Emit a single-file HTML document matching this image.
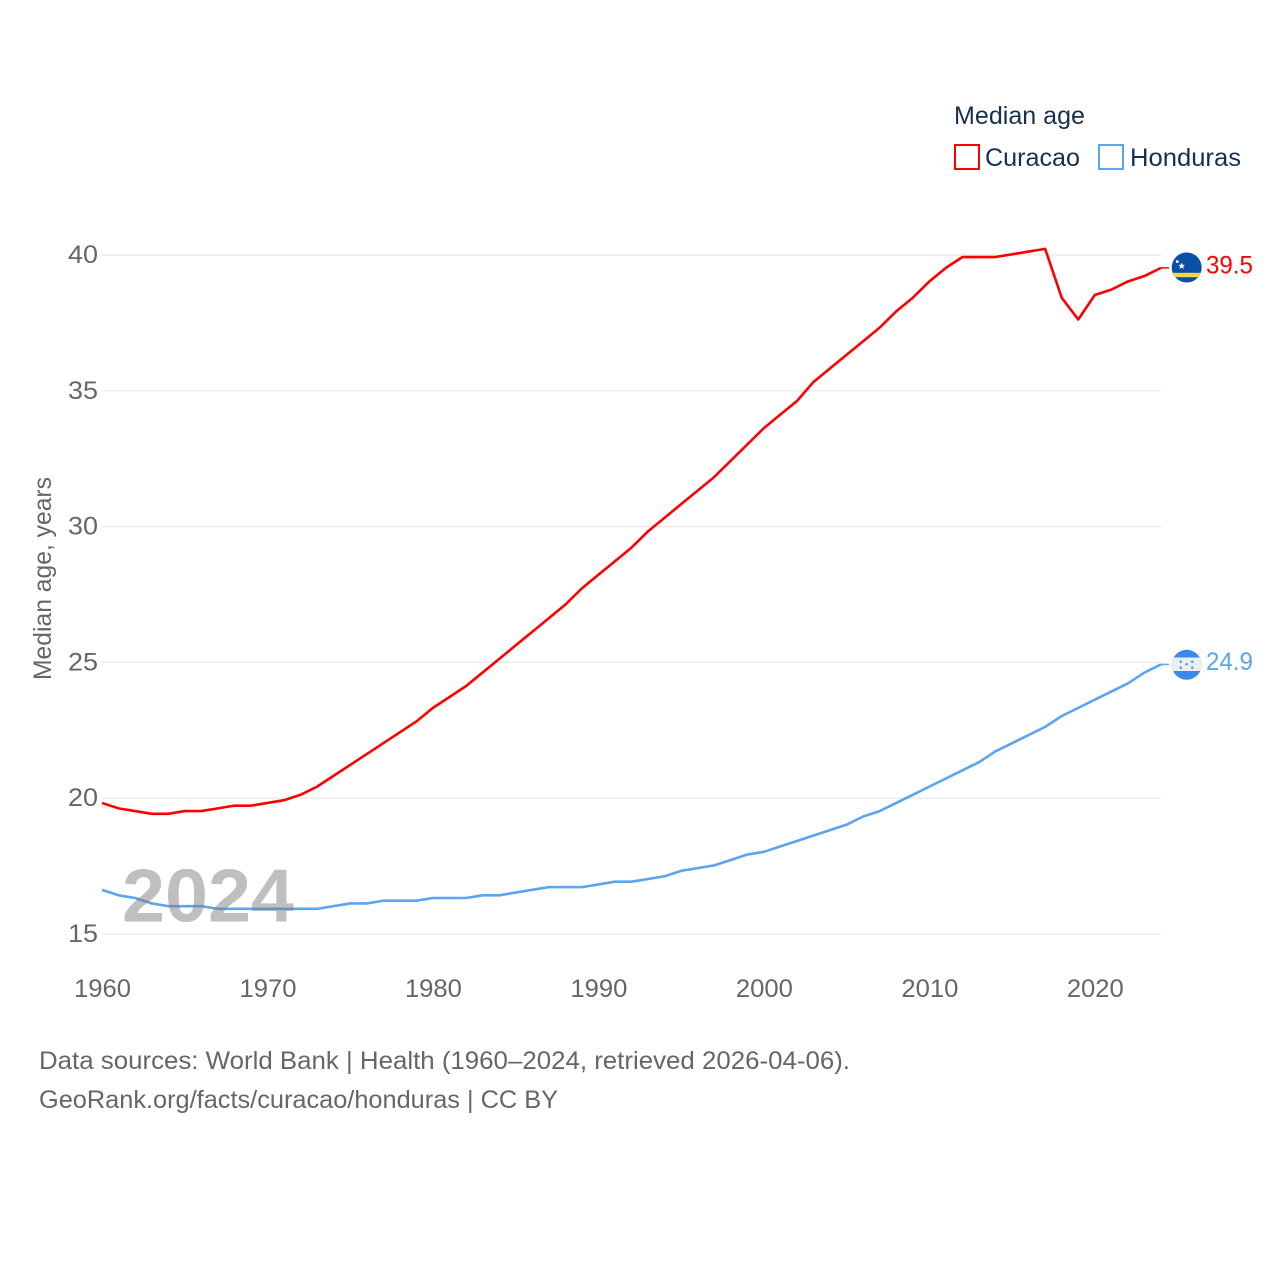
<!DOCTYPE html>
<html lang="en">
<head>
<meta charset="utf-8">
<title>Median age: Curacao and Honduras</title>
<style>
html,body{margin:0;padding:0;background:#fff;}
svg{display:block;font-family:"Liberation Sans",sans-serif;}
</style>
</head>
<body>
<svg id="chart" xmlns="http://www.w3.org/2000/svg" width="1280" height="1280" viewBox="0 0 1280 1280">
  <defs>
    <clipPath id="clip-cw"><circle cx="1186.7" cy="267.5" r="15"/></clipPath>
    <clipPath id="clip-hn"><circle cx="1186.7" cy="664.8" r="15"/></clipPath>
  </defs>
  <rect width="1280" height="1280" fill="#ffffff"/>
  <g id="grid"></g>
  <g id="ylabels"></g>
  <g id="xlabels"></g>
  <text transform="translate(51,680) rotate(-90)" font-size="25" fill="#666666" textLength="203" lengthAdjust="spacingAndGlyphs">Median age, years</text>
  <g id="series" transform="translate(0,-0.7)"></g>
  <text x="122" y="921.5" font-size="75" font-weight="700" fill="#808080" fill-opacity="0.5" textLength="172" lengthAdjust="spacingAndGlyphs">2024</text>

  <g clip-path="url(#clip-cw)">
    <rect x="1171" y="251" width="32" height="32" fill="#0a4ea8"/>
    <rect x="1171" y="272.8" width="32" height="4.4" fill="#f9d342"/>
    <polygon points="1181.7,262.6 1182.6,264.8 1185,265 1183.2,266.5 1183.8,268.9 1181.7,267.6 1179.6,268.9 1180.2,266.5 1178.4,265 1180.8,264.8" fill="#ffffff"/>
    <circle cx="1177.3" cy="261.6" r="1.4" fill="#ffffff"/>
  </g>
  <g clip-path="url(#clip-hn)">
    <rect x="1171" y="649" width="32" height="32" fill="#3a8aea"/>
    <rect x="1171" y="657.5" width="32" height="13.5" fill="#eeeeee"/>
    <circle cx="1186.7" cy="664.3" r="1.3" fill="#5aa0ea"/>
    <circle cx="1180.7" cy="661.7" r="1.3" fill="#5aa0ea"/>
    <circle cx="1192.3" cy="661.7" r="1.3" fill="#5aa0ea"/>
    <circle cx="1180.7" cy="667.7" r="1.3" fill="#5aa0ea"/>
    <circle cx="1192.3" cy="667.7" r="1.3" fill="#5aa0ea"/>
  </g>
  <g id="endlabels"></g>

  <text x="954" y="124" font-size="25" fill="#18304f" textLength="131" lengthAdjust="spacingAndGlyphs">Median age</text>
  <g>
    <rect x="955" y="145" width="24" height="24" fill="none" stroke="#ff0000" stroke-width="2"/>
    <text x="985" y="166" font-size="25" fill="#18304f" textLength="95" lengthAdjust="spacingAndGlyphs">Curacao</text>
  </g>
  <g>
    <rect x="1099" y="145" width="24" height="24" fill="none" stroke="#5ba4f0" stroke-width="2"/>
    <text x="1130" y="166" font-size="25" fill="#18304f" textLength="111" lengthAdjust="spacingAndGlyphs">Honduras</text>
  </g>

  <text x="39" y="1069" font-size="25" fill="#666666" textLength="811" lengthAdjust="spacingAndGlyphs">Data sources: World Bank | Health (1960–2024, retrieved 2026-04-06).</text>
  <text x="39" y="1108" font-size="25" fill="#666666" textLength="519" lengthAdjust="spacingAndGlyphs">GeoRank.org/facts/curacao/honduras | CC BY</text>
</svg>
<script>
const startYear = 1960;
const curacaoValues = [19.8,19.6,19.5,19.4,19.4,19.5,19.5,19.6,19.7,19.7,19.8,19.9,20.1,20.4,20.8,21.2,21.6,22.0,22.4,22.8,23.3,23.7,24.1,24.6,25.1,25.6,26.1,26.6,27.1,27.7,28.2,28.7,29.2,29.8,30.3,30.8,31.3,31.8,32.4,33.0,33.6,34.1,34.6,35.3,35.8,36.3,36.8,37.3,37.9,38.4,39.0,39.5,39.9,39.9,39.9,40.0,40.1,40.2,38.4,37.6,38.5,38.7,39.0,39.2,39.5];
const hondurasValues = [16.6,16.4,16.3,16.1,16.0,16.0,16.0,15.9,15.9,15.9,15.9,15.9,15.9,15.9,16.0,16.1,16.1,16.2,16.2,16.2,16.3,16.3,16.3,16.4,16.4,16.5,16.6,16.7,16.7,16.7,16.8,16.9,16.9,17.0,17.1,17.3,17.4,17.5,17.7,17.9,18.0,18.2,18.4,18.6,18.8,19.0,19.3,19.5,19.8,20.1,20.4,20.7,21.0,21.3,21.7,22.0,22.3,22.6,23.0,23.3,23.6,23.9,24.2,24.6,24.9];
const yTicks = [15,20,25,30,35,40];
const xTicks = [1960,1970,1980,1990,2000,2010,2020];

const NS = 'http://www.w3.org/2000/svg';
function xScale(year){ return 102 + (year - 1960) * (1161 - 102) / 64; }
function yScale(v){ return 934 - (v - 15) * (934 - 255) / 25; }
function make(tag, parent, attrs){
  const el = document.createElementNS(NS, tag);
  for (const k in attrs) el.setAttribute(k, attrs[k]);
  parent.appendChild(el);
  return el;
}

const grid = document.getElementById('grid');
const ylabels = document.getElementById('ylabels');
yTicks.forEach(function(t){
  const line = make('line', grid, {x1:102, x2:1161, y1:yScale(t), y2:yScale(t), stroke:'#e8e8e8', 'stroke-width':1.2});
  
  
  const label = make('text', ylabels, {x:98, y:yScale(t)+8, 'text-anchor':'end', 'font-size':25, fill:'#666666', textLength:30, lengthAdjust:'spacingAndGlyphs'});
  
  
  label.textContent = String(t);
});

const xlabels = document.getElementById('xlabels');
xTicks.forEach(function(t){
  const label = make('text', xlabels, {x:xScale(t)+0.5, y:997, 'text-anchor':'middle', 'font-size':25, fill:'#666666', textLength:57, lengthAdjust:'spacingAndGlyphs'});
  
  
  label.textContent = String(t);
});

const series = document.getElementById('series');
const endlabels = document.getElementById('endlabels');
function drawSeries(values, color, key){
  const pts = values.map(function(v, i){ return xScale(startYear + i).toFixed(2) + ',' + yScale(v).toFixed(2); }).join(' ');
  const line = make('polyline', series, {points:pts, fill:'none', stroke:color, 'stroke-width':2.6, 'stroke-linejoin':'round'});
  
  
  const last = values[values.length - 1];
  const lastX = xScale(startYear + values.length - 1);
  const conn = make('line', series, {x1:lastX, x2:lastX + 8, y1:yScale(last), y2:yScale(last), stroke:color, 'stroke-width':1.5});
  
  
  const label = make('text', endlabels, {x:1206, y:yScale(last)+4.8, 'font-size':25, fill:color, textLength:47, lengthAdjust:'spacingAndGlyphs'});
  
  
  label.textContent = last.toFixed(1);
}
drawSeries(curacaoValues, '#ff0000', 'curacao');
drawSeries(hondurasValues, '#5ba4f0', 'honduras');
</script>
</body>
</html>
